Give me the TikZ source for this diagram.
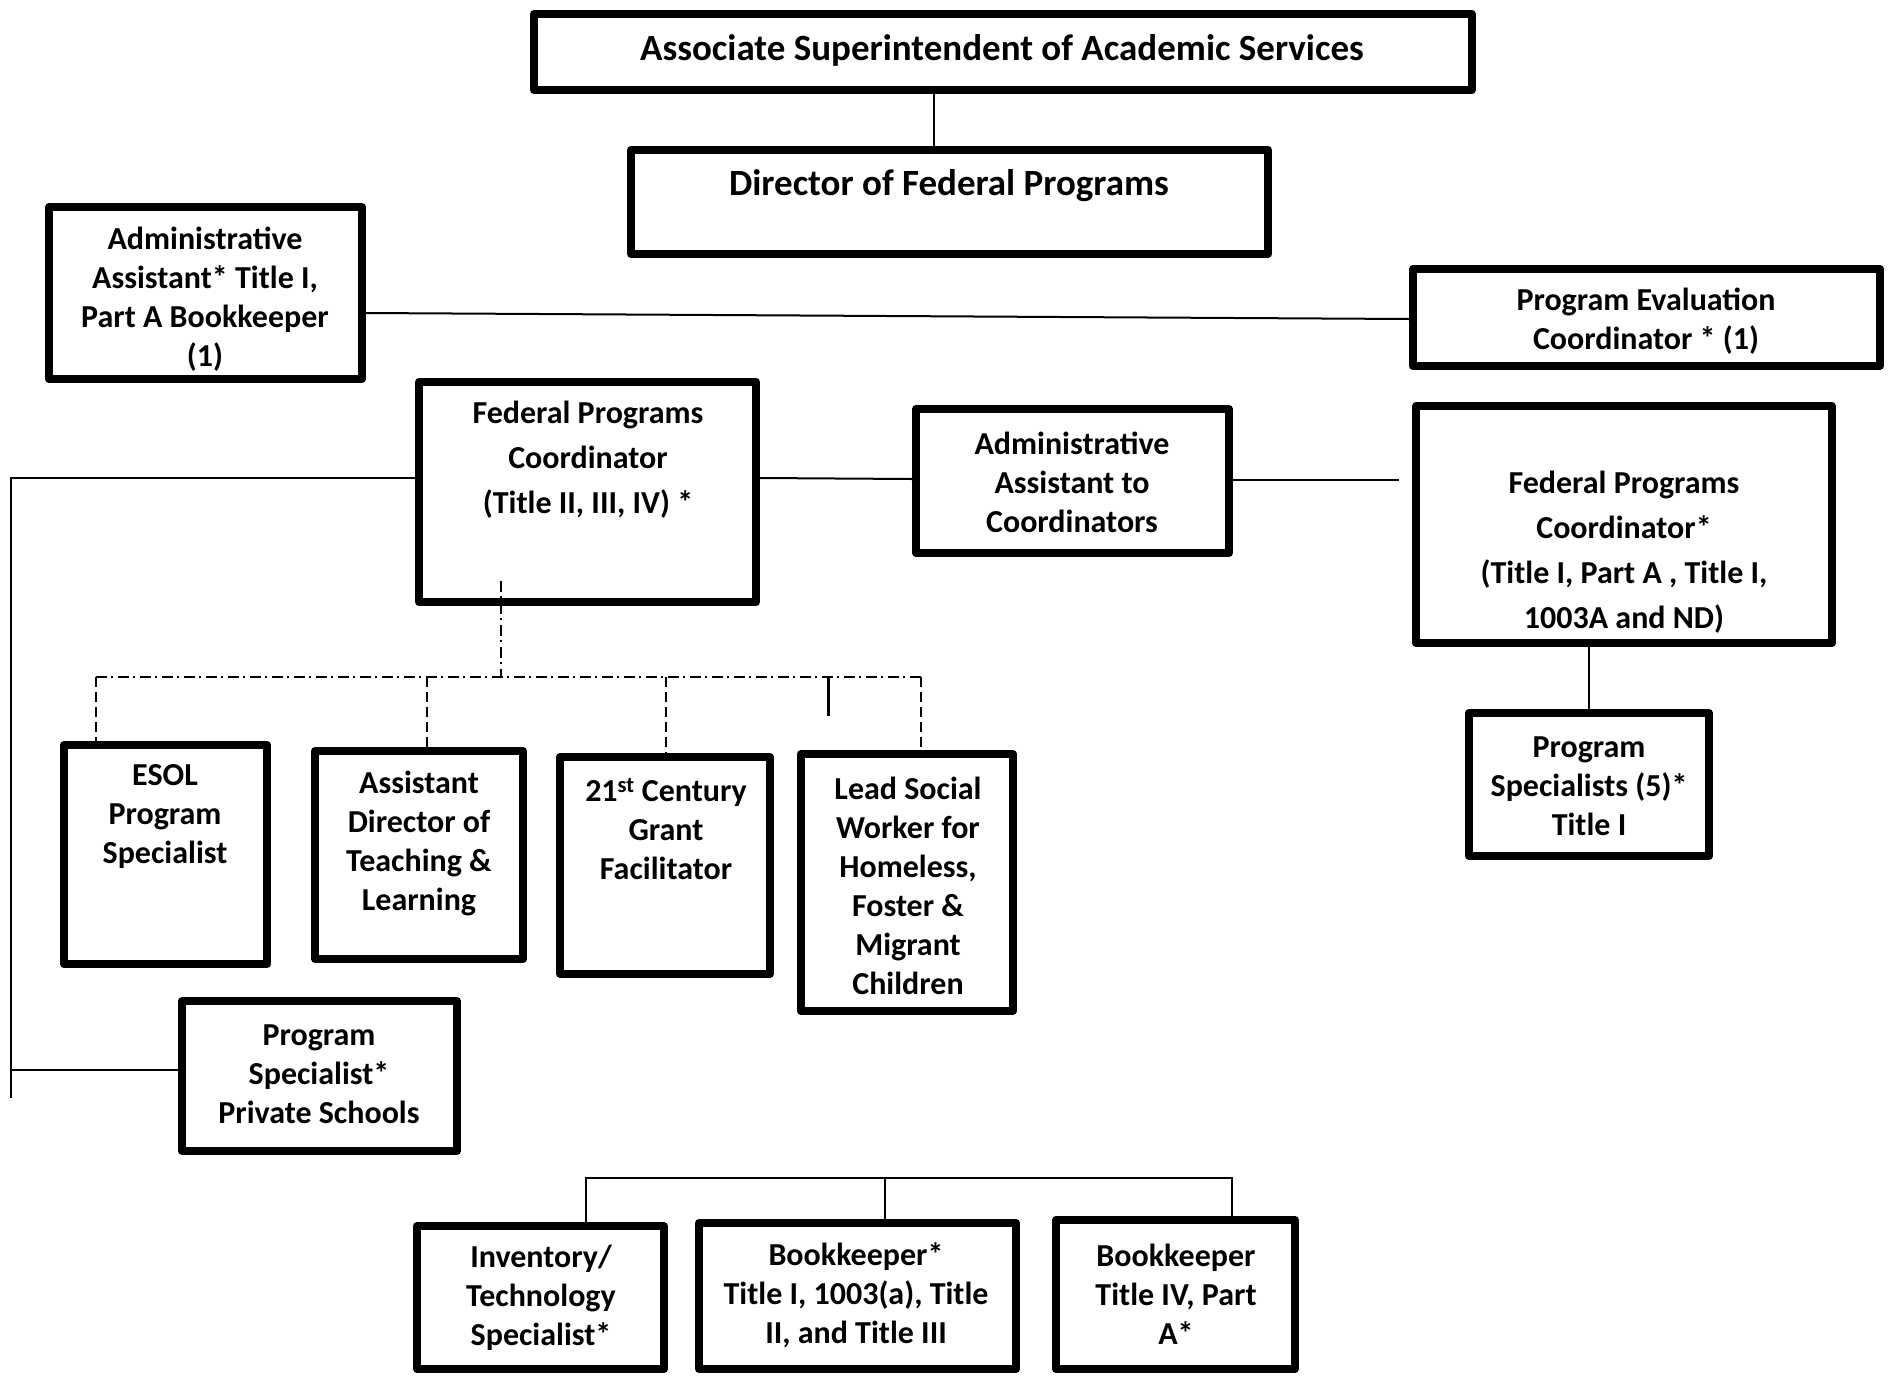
\documentclass[tikz,border=0pt]{standalone}
\usepackage{fontspec}
\setmainfont{Carlito}
\begin{document}
\begin{tikzpicture}[x=1pt,y=-1pt,
  box/.style={draw, line width=8pt, inner sep=0pt, rectangle, line join=round},
  txt/.style={inner sep=0pt, align=center, font=\bfseries\fontsize{32}{39}\selectfont},
  txtwide/.style={inner sep=0pt, align=center, font=\bfseries\fontsize{32}{45}\selectfont},
  conn/.style={line width=2.6pt},
  thinconn/.style={line width=2pt},
  dashdotline/.style={line width=2pt, dash pattern=on 11pt off 4pt on 2pt off 5pt},
  dashline/.style={line width=2pt, dash pattern=on 10pt off 5pt}]
\fill[white] (0,0) rectangle (1888,1376);
\useasboundingbox (0,0) rectangle (1888,1376);

% boxes
\node[box, minimum width=938pt, minimum height=76pt] (top) at (1003,52) {};
\node[box, minimum width=637pt, minimum height=104pt] (dir) at (949.5,202) {};
\node[box, minimum width=313pt, minimum height=172pt] (aa1) at (205.5,293) {};
\node[box, minimum width=467pt, minimum height=97pt] (pec) at (1646.5,317.5) {};
\node[box, minimum width=337pt, minimum height=220pt] (fpc) at (587.5,492) {};
\node[box, minimum width=313pt, minimum height=144pt] (aac) at (1072.5,481) {};
\node[box, minimum width=416pt, minimum height=237pt] (fpc2) at (1624,524.5) {};
\node[box, minimum width=240pt, minimum height=143pt] (ps5) at (1589,784.5) {};
\node[box, minimum width=203pt, minimum height=219pt] (esol) at (165.5,854.5) {};
\node[box, minimum width=208pt, minimum height=208pt] (adt) at (419,855) {};
\node[box, minimum width=210pt, minimum height=217pt] (c21) at (665,865.5) {};
\node[box, minimum width=212pt, minimum height=257pt] (lsw) at (907,882.5) {};
\node[box, minimum width=275pt, minimum height=150pt] (psp) at (319.5,1076) {};
\node[box, minimum width=247pt, minimum height=143pt] (inv) at (540.5,1297.5) {};
\node[box, minimum width=317pt, minimum height=146pt] (bk1) at (857.5,1296) {};
\node[box, minimum width=239pt, minimum height=149pt] (bk4) at (1175.5,1294.5) {};

% texts
\node[txt, font=\bfseries\fontsize{37}{44}\selectfont] (topt) at (1002,50) {Associate Superintendent of Academic Services};
\node[txt, font=\bfseries\fontsize{37}{44}\selectfont] (dirt) at (949,186) {Director of Federal Programs};
\node[txt] (aa1t) at (205,299) {Administrative\\Assistant* Title I,\\Part A Bookkeeper\\(1)};
\node[txt] (pect) at (1646,321) {Program Evaluation\\Coordinator * (1)};
\node[txtwide] (fpct) at (588,460) {Federal Programs\\Coordinator\\(Title II, III, IV) *};
\node[txt] (aact) at (1072,482) {Administrative\\Assistant to\\Coordinators};
\node[txtwide] (fpc2t) at (1624,552) {Federal Programs\\Coordinator*\\(Title I, Part A , Title I,\\1003A and ND)};
\node[txt] (ps5t) at (1589,786) {Program\\Specialists (5)*\\Title I};
\node[txt] (esolt) at (165,817) {ESOL\\Program\\Specialist};
\node[txt] (adtt) at (419,843) {Assistant\\Director of\\Teaching \&\\Learning};
\node[txt] (c21t) at (666,829) {21\textsuperscript{st} Century\\Grant\\Facilitator};
\node[txt] (lswt) at (908,886) {Lead Social\\Worker for\\Homeless,\\Foster \&\\Migrant\\Children};
\node[txt] (pspt) at (319,1074) {Program\\Specialist*\\Private Schools};
\node[txt] (invt) at (541,1298) {Inventory/\\Technology\\Specialist*};
\node[txt] (bk1t) at (856,1295) {Bookkeeper*\\Title I, 1003(a), Title\\II, and Title III};
\node[txt] (bk4t) at (1176,1294) {Bookkeeper\\Title IV, Part\\A*};

% coordinates
\coordinate (tx) at (934,0);
\coordinate (aacend) at (1399,480);
\coordinate (lt) at (11,478);
\coordinate (lb) at (11,1098);
\coordinate (ddtop) at (501,581);
\coordinate (ddmid) at (501,677);
\coordinate (hl) at (96,677);
\coordinate (hr) at (924,677);
\coordinate (d2) at (427,677);
\coordinate (d3) at (666,677);
\coordinate (d4) at (921,677);
\coordinate (tk1) at (828,677);
\coordinate (tk2) at (828,716);
\coordinate (b1) at (586,1178);
\coordinate (b2) at (885,1178);
\coordinate (b3) at (1232,1178);

% connectors
\draw[conn] (top.south -| tx) -- (dir.north -| tx);
\draw[thinconn] ([yshift=-20pt]aa1.east) -- ([yshift=-1.5pt]pec.west);
\draw[thinconn] ([yshift=14pt]fpc.east) -- ([yshift=2pt]aac.west);
\draw[thinconn] (aac.east |- aacend) -- (aacend);
\draw[conn] (fpc2.south -| ps5.north) -- (ps5.north);
\draw[thinconn] ([yshift=14pt]fpc.west) -- (lt) -- (lb);
\draw[thinconn] ([yshift=6pt]psp.west) -- ([yshift=6pt]psp.west -| lb);
\draw[dashdotline] (ddtop) -- (ddmid);
\draw[dashdotline] (hl) -- (hr);
\draw[dashline] (hl) -- (hl |- esol.north);
\draw[dashline] (d2) -- (d2 |- adt.north);
\draw[dashline] (d3) -- (d3 |- c21.north);
\draw[dashline] (d4) -- (d4 |- lsw.north);
\draw[line width=3pt] (tk1) -- (tk2);
\draw[conn] (b1 |- inv.north) -- (b1) -- (b3) -- (b3 |- bk4.north);
\draw[conn] (b2) -- (b2 |- bk1.north);
\end{tikzpicture}
\end{document}
